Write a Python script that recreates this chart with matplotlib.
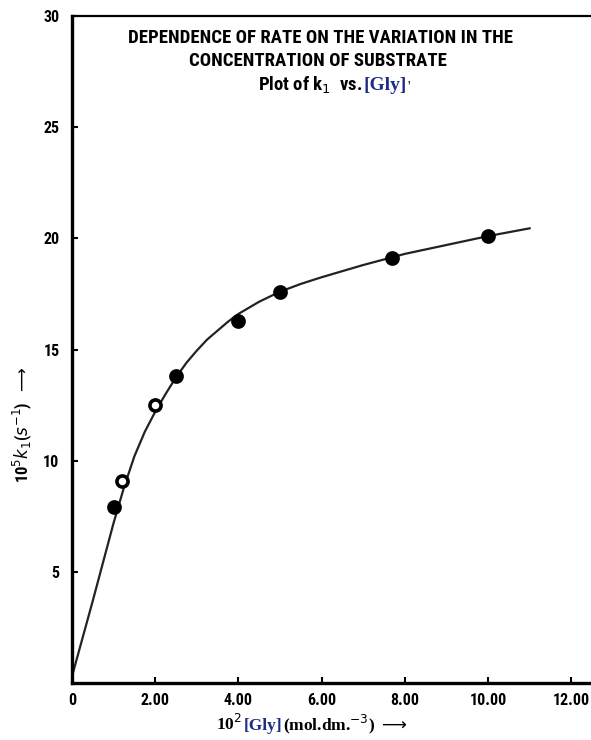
import matplotlib

matplotlib.use("Agg")
import matplotlib.pyplot as plt
from matplotlib.offsetbox import AnnotationBbox, HPacker, TextArea

# measured points: 10^2 [Gly] vs 10^5 k1
gly = [1.0, 1.2, 2.0, 2.5, 4.0, 5.0, 7.7, 10.0]
k1 = [7.9, 9.1, 12.5, 13.8, 16.3, 17.6, 19.1, 20.1]
hollow = [False, True, True, False, False, False, False, False]

# fitted curve as drawn in the original
curve_x = [0.0, 0.5, 1.0, 1.25, 1.5, 1.75, 2.0, 2.25, 2.5, 2.75, 3.0, 3.25,
           3.5, 3.75, 4.0, 4.5, 5.0, 5.5, 6.0, 7.0, 8.0, 9.0, 10.0, 11.0]
curve_y = [0.3, 3.7, 7.2, 8.8, 10.2, 11.3, 12.2, 13.0, 13.75, 14.4, 14.95, 15.45,
           15.85, 16.25, 16.6, 17.15, 17.6, 17.95, 18.25, 18.8, 19.3, 19.7, 20.1, 20.45]

x_ticks = [0, 2, 4, 6, 8, 10, 12]
x_tick_labels = ["0", "2.00", "4.00", "6.00", "8.00", "10.00", "12.00"]
y_ticks = [5, 10, 15, 20, 25, 30]
y_tick_labels = ["5", "10", "15", "20", "25", "30"]

NARROW = ["Roboto Condensed", "Liberation Sans Narrow", "Roboto", "DejaVu Sans"]
SERIF = ["Liberation Serif", "DejaVu Serif"]
GLY_BLUE = "#1c2d86"

W, H = 591, 740
fig = plt.figure(figsize=(W / 100, H / 100), dpi=100)
ax = fig.add_axes([72 / W, (H - 683) / H, (W - 72) / W, (683 - 16) / H])

ax.plot(curve_x, curve_y, color="#222222", lw=1.6)
for x, y, h in zip(gly, k1, hollow):
    ax.plot(x, y, "o", ms=8, mew=2.6, mec="black",
            mfc="white" if h else "black")

ax.set_xlim(0, (W - 72) / 41.6)
ax.set_ylim(0, 30)
ax.set_xticks(x_ticks, x_tick_labels)
ax.set_yticks(y_ticks, y_tick_labels)
ax.tick_params(direction="in", length=4, width=1.5, pad=9)
ax.tick_params(axis="x", pad=7)
for lab in ax.get_xticklabels() + ax.get_yticklabels():
    lab.set_family(NARROW)
    lab.set_fontweight("bold")
    lab.set_fontsize(11.5)
ax.spines["right"].set_visible(False)
ax.spines["left"].set_linewidth(2.4)
ax.spines["bottom"].set_linewidth(2.4)
ax.spines["top"].set_linewidth(1.6)


def place(parts, xy):
    """Place a row of differently styled text pieces, centred at figure pixels."""
    box = HPacker(children=[TextArea(t, textprops=p) for t, p in parts],
                  align="baseline", pad=0, sep=0)
    fig.add_artist(AnnotationBbox(box, xy, xycoords="figure pixels",
                                  frameon=False, box_alignment=(0.5, 0.5)))


title = dict(family=NARROW, weight="bold", size=13.5, color="black")
fig.text(321 / W, 1 - 38 / H, "DEPENDENCE OF RATE ON THE VARIATION IN THE",
         ha="center", va="center", **title)
fig.text(318 / W, 1 - 61 / H, "CONCENTRATION OF SUBSTRATE",
         ha="center", va="center", **title)
place([("Plot of k$_1$  vs. ", title),
       ("[Gly]", dict(family=SERIF, weight="bold", size=14, color=GLY_BLUE)),
       ("'", dict(family=SERIF, size=10, color="black"))],
      (334, H - 85))

xl = dict(family=SERIF, weight="bold", size=12.5, color="black")
place([("10$^2$ ", xl),
       ("[Gly]", dict(xl, color=GLY_BLUE)),
       ("(mol.dm.$^{-3}$) $\\longrightarrow$", xl)],
      (312, H - 724))

fig.text(22 / W, 1 - 425 / H, "10$^5$$k_1$($s^{-1}$)  $\\longrightarrow$",
         rotation=90, ha="center", va="center", family=NARROW,
         weight="bold", size=12)

fig.savefig("out.png", dpi=100)
